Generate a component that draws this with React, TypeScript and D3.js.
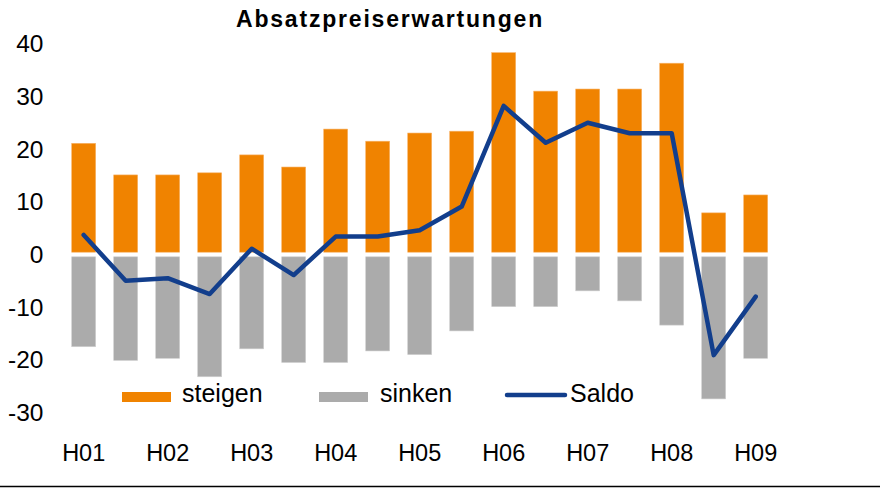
import React from "react";
import * as d3 from "d3";

const categories = ["H01a","H01b","H02a","H02b","H03a","H03b","H04a","H04b","H05a","H05b","H06a","H06b","H07a","H07b","H08a","H08b","H09a"];
const tickLabels = ["H01","","H02","","H03","","H04","","H05","","H06","","H07","","H08","","H09"];
const steigen = [21.1, 15.1, 15.1, 15.5, 18.9, 16.6, 23.8, 21.5, 23.05, 23.4, 38.3, 31.0, 31.4, 31.4, 36.3, 7.9, 11.3];
const sinken = [-17.5, -20.1, -19.7, -23.2, -17.9, -20.5, -20.5, -18.3, -19.0, -14.5, -9.9, -9.9, -6.9, -8.8, -13.4, -27.4, -19.7];
const saldo = [3.7, -5.0, -4.5, -7.5, 1.1, -3.9, 3.4, 3.4, 4.6, 9.1, 28.2, 21.2, 25.0, 23.0, 23.0, -19.1, -8.0];
const yTicks = [40, 30, 20, 10, 0, -10, -20, -30];
const title = "Absatzpreiserwartungen";
const legendItems = ["steigen", "sinken", "Saldo"];

const ORANGE = "#F08300";
const GRAY = "#ABABAB";
const BLUE = "#123E8C";
const FONT = "'Liberation Sans', Arial, sans-serif";

export default function App() {
  const W = 890, H = 488;
  const x = d3.scaleBand<string>().domain(categories).range([62.7, 776.7]).paddingInner(0.4286).paddingOuter(0.2143);
  const y = d3.scaleLinear().domain([-30, 40]).range([412.6, 43.7]);
  const bw = x.bandwidth();
  const gap = 2.3;
  const cx = (c: string) => (x(c) as number) + bw / 2;
  const line = d3.line<number>().x((_, i) => cx(categories[i])).y((d) => y(d));

  return (
    <svg width={W} height={H} style={{ position: "absolute", left: 0, top: 0, background: "#fff" }} fontFamily={FONT}>
      <rect x={0} y={0} width={W} height={H} fill="#fff" />
      <text x={390} y={27} textAnchor="middle" fontWeight="bold" fontSize={23} letterSpacing={1.8} fill="#000">{title}</text>
      {yTicks.map((t) => (
        <text key={t} x={43.5} y={y(t)} textAnchor="end" dominantBaseline="central" fontSize={24.5} fill="#000">{t}</text>
      ))}
      {categories.map((c, i) => (
        <rect key={"s" + c} x={x(c)} y={y(steigen[i])} width={bw} height={y(0) - gap - y(steigen[i])} fill={ORANGE} stroke="#F7B46A" strokeWidth={0.6} />
      ))}
      {categories.map((c, i) => (
        <rect key={"k" + c} x={x(c)} y={y(0) + gap} width={bw} height={y(sinken[i]) - y(0) - gap} fill={GRAY} stroke="#D0D0D0" strokeWidth={0.6} />
      ))}
      <path d={line(saldo) || ""} fill="none" stroke={BLUE} strokeWidth={4.5} strokeLinejoin="round" strokeLinecap="round" />
      {categories.map((c, i) => tickLabels[i] ? (
        <text key={"t" + c} x={cx(c)} y={461} textAnchor="middle" fontSize={23.5} fill="#000">{tickLabels[i]}</text>
      ) : null)}
      <g>
        <rect x={122} y={392} width={49} height={10} fill={ORANGE} />
        <text x={182} y={402} fontSize={25} fill="#000">{legendItems[0]}</text>
        <rect x={319} y={392} width={49} height={10} fill={GRAY} />
        <text x={380} y={402} fontSize={25} fill="#000">{legendItems[1]}</text>
        <line x1={507} x2={565} y1={395} y2={395} stroke={BLUE} strokeWidth={4.5} strokeLinecap="round" />
        <text x={570} y={402} fontSize={25} fill="#000">{legendItems[2]}</text>
      </g>
      <line x1={0} x2={880} y1={486.5} y2={486.5} stroke="#000" strokeWidth={1.5} />
    </svg>
  );
}
